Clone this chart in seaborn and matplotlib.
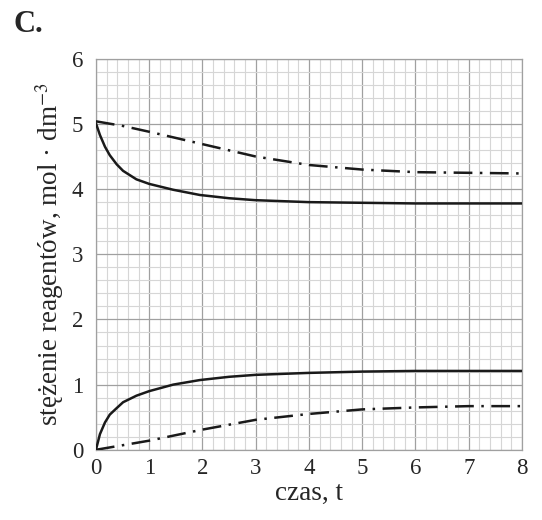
import numpy as np
import pandas as pd
import matplotlib.pyplot as plt
import seaborn as sns
from matplotlib.ticker import MultipleLocator

# dane
czas = [0, 0.075, 0.17, 0.26, 0.39, 0.51, 0.76, 1, 1.45, 1.95, 2.5, 3, 4, 5, 6, 7, 8]
gorna_ciagla = [5.01, 4.83, 4.65, 4.52, 4.38, 4.28, 4.15, 4.08, 3.99, 3.91,
                3.86, 3.83, 3.80, 3.79, 3.78, 3.78, 3.78]
dolna_ciagla = [0.0, 0.24, 0.42, 0.54, 0.64, 0.73, 0.83, 0.90, 1.00, 1.07,
                1.12, 1.15, 1.18, 1.20, 1.21, 1.21, 1.21]

czas_kreska = [0, 0.5, 1, 2, 3, 4, 5, 6, 7, 8]
gorna_kreska = [5.04, 4.97, 4.88, 4.69, 4.50, 4.37, 4.30, 4.26, 4.25, 4.24]
dolna_kreska = [0.0, 0.07, 0.14, 0.31, 0.46, 0.55, 0.62, 0.65, 0.67, 0.67]

sns.set_style('white')
plt.rcParams['font.family'] = ['Liberation Serif', 'DejaVu Serif']
plt.rcParams['mathtext.fontset'] = 'stix'

fig = plt.figure(figsize=(5.42, 5.20), dpi=100)
ax = fig.add_axes([0.177, 0.135, 0.786, 0.752])

ciagle = pd.DataFrame({'t': czas + czas,
                       'c': gorna_ciagla + dolna_ciagla,
                       'seria': ['A'] * len(czas) + ['B'] * len(czas)})
kreski = pd.DataFrame({'t': czas_kreska + czas_kreska,
                       'c': gorna_kreska + dolna_kreska,
                       'seria': ['A'] * len(czas_kreska) + ['B'] * len(czas_kreska)})

for seria, grp in ciagle.groupby('seria'):
    sns.lineplot(data=grp, x='t', y='c', ax=ax, color='#1a1a1a', lw=1.8,
                 estimator=None, sort=True, zorder=3)
for seria, grp in kreski.groupby('seria'):
    sns.lineplot(data=grp, x='t', y='c', ax=ax, color='#1a1a1a', lw=1.8,
                 estimator=None, sort=True, zorder=3,
                 dashes=False, linestyle=(0, (7.5, 3.0, 1.0, 3.0)))

ax.set_xlim(0, 8)
ax.set_ylim(0, 6)
ax.xaxis.set_major_locator(MultipleLocator(1))
ax.yaxis.set_major_locator(MultipleLocator(1))
ax.xaxis.set_minor_locator(MultipleLocator(0.2))
ax.yaxis.set_minor_locator(MultipleLocator(0.2))
ax.grid(which='major', color='#a0a0a0', lw=0.9)
ax.grid(which='minor', color='#d6d6d6', lw=0.8)
ax.set_axisbelow(True)
ax.tick_params(which='both', length=0, labelsize=16.5)
ax.tick_params(axis='x', pad=6)
ax.tick_params(axis='y', pad=9)
for s in ax.spines.values():
    s.set_color('#a0a0a0')
    s.set_linewidth(0.9)

ax.set_xlabel('czas, t', fontsize=19.5, labelpad=1)
ax.set_ylabel('stężenie reagentów, mol · dm$^{-3}$', fontsize=19.5, labelpad=4)

fig.text(0.024, 0.953, 'C.', fontsize=22, fontweight='bold', va='center')

plt.savefig('out.png', dpi=100)
plt.close()
